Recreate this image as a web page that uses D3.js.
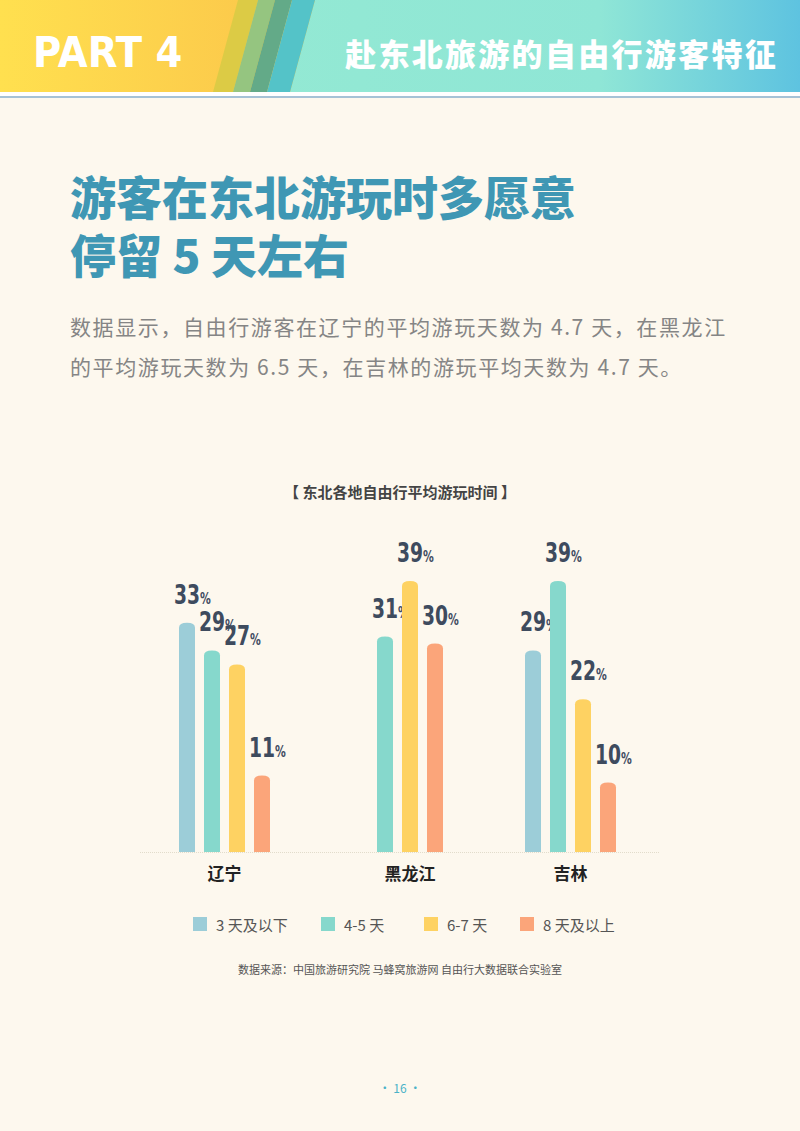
<!DOCTYPE html>
<html><head><meta charset="utf-8">
<script src="https://cdn.jsdelivr.net/npm/d3@7"></script>
<style>body{margin:0;background:#fdf8ee;}svg{display:block}</style>
</head><body><svg id="c" width="800" height="1131"></svg>
<script>
const regions = ["辽宁","黑龙江","吉林"];
const seriesNames = ["3 天及以下","4-5 天","6-7 天","8 天及以上"];
const colors = ["#9ccdd8","#86d8cc","#fed262","#fba57a"];
const values = [[33,29,27,11],[0,31,39,30],[29,39,22,10]];

const svg = d3.select("#c");
const F = "'Noto Sans CJK SC', sans-serif";
const defs = svg.append("defs");
const g1 = defs.append("linearGradient").attr("id","gl");
g1.append("stop").attr("offset",0).attr("stop-color","#ffe04f");
g1.append("stop").attr("offset",1).attr("stop-color","#fbc44a");
const g2 = defs.append("linearGradient").attr("id","gr");
g2.append("stop").attr("offset",0).attr("stop-color","#b5e3b0");
g2.append("stop").attr("offset",0.15).attr("stop-color","#95ead2");
g2.append("stop").attr("offset",0.75).attr("stop-color","#8fe6d6");
g2.append("stop").attr("offset",1).attr("stop-color","#5ec3e0");
svg.append("rect").attr("width",800).attr("height",1131).attr("fill","#fdf8ee");
svg.append("rect").attr("width",800).attr("height",92).attr("fill","url(#gr)");
svg.append("polygon").attr("points","0,0 315,0 290,92 0,92").attr("fill","url(#gl)");
[["#dccb45",238,258],["#95c580",258,275],["#63aa88",275,292],["#54c3c8",292,315]].forEach(([c,a,b])=>{
  svg.append("polygon").attr("points",`${a},0 ${b},0 ${b-25},92 ${a-25},92`).attr("fill",c);
});
svg.append("rect").attr("y",92).attr("width",800).attr("height",4).attr("fill","#fff");
svg.append("rect").attr("y",96).attr("width",800).attr("height",2).attr("fill","#a6c2d6");
svg.append("text").attr("transform","translate(33,67) scale(0.92,1)").text("PART 4").attr("fill","#fff").attr("font-family","'DejaVu Sans'").attr("font-weight","bold").attr("font-size",42);
svg.append("text").attr("x",778).attr("y",66).attr("text-anchor","end").text("赴东北旅游的自由行游客特征").attr("fill","#fff").attr("font-family",F).attr("font-weight","900").attr("font-size",31).attr("letter-spacing",2.3);

svg.append("text").attr("x",70).attr("y",215).text("游客在东北游玩时多愿意").attr("fill","#3f97b4").attr("font-family",F).attr("font-weight","900").attr("font-size",46);
svg.append("text").attr("x",70).attr("y",273).text("停留 5 天左右").attr("fill","#3f97b4").attr("font-family",F).attr("font-weight","900").attr("font-size",46);
svg.append("text").attr("x",70).attr("y",335).text("数据显示，自由行游客在辽宁的平均游玩天数为 4.7 天，在黑龙江").attr("fill","#858585").attr("font-family",F).attr("font-size",21).attr("letter-spacing",1.6);
svg.append("text").attr("x",70).attr("y",375).text("的平均游玩天数为 6.5 天，在吉林的游玩平均天数为 4.7 天。").attr("fill","#858585").attr("font-family",F).attr("font-size",21).attr("letter-spacing",1.6);
svg.append("text").attr("x",400).attr("y",498).attr("text-anchor","middle").text("【 东北各地自由行平均游玩时间 】").attr("fill","#444").attr("font-family",F).attr("font-weight","bold").attr("font-size",15);

const x0 = d3.scalePoint().domain(regions).range([187,533]);
const x1 = d3.scaleLinear().domain([0,3]).range([0,75]);
const bw = 16;
const y = d3.scaleLinear().domain([0,39]).range([852,581]);
svg.append("line").attr("x1",140).attr("x2",660).attr("y1",852.5).attr("y2",852.5).attr("stroke","#e2dccb").attr("stroke-dasharray","1,1");
regions.forEach((r,ri)=>{
  values[ri].forEach((v,si)=>{
    if(!v) return;
    const cx = x0(r)+x1(si);
    const top = y(v);
    svg.append("path").attr("d",`M${cx-bw/2},852 V${top+5} Q${cx-bw/2},${top} ${cx},${top} Q${cx+bw/2},${top} ${cx+bw/2},${top+5} V852 Z`).attr("fill",colors[si]);
    const t = svg.append("text").attr("transform",`translate(${cx-13},${top-19}) scale(0.72,1)`).attr("fill","#3e4b5e").attr("font-family","'DejaVu Sans'").attr("font-weight","bold");
    t.append("tspan").text(v).attr("font-size",26);
    t.append("tspan").text("%").attr("font-size",15);
  });
  svg.append("text").attr("x",x0(r)+(ri===1?x1(2):x1(1.5))).attr("y",880).attr("text-anchor","middle").text(r).attr("fill","#222").attr("font-family",F).attr("font-weight","bold").attr("font-size",17);
});
const lx=[193,321,424,520];
seriesNames.forEach((s,i)=>{
  svg.append("rect").attr("x",lx[i]).attr("y",917).attr("width",14).attr("height",14).attr("fill",colors[i]);
  svg.append("text").attr("x",lx[i]+23).attr("y",931).text(s).attr("fill","#555").attr("font-family",F).attr("font-size",15);
});
svg.append("text").attr("x",400).attr("y",974).attr("text-anchor","middle").text("数据来源：中国旅游研究院 马蜂窝旅游网 自由行大数据联合实验室").attr("fill","#555").attr("font-family",F).attr("font-size",11);
svg.append("text").attr("x",400).attr("y",1093).attr("text-anchor","middle").text("· 16 ·").attr("fill","#4ab3c8").attr("font-family",F).attr("font-size",12);
</script></body></html>
